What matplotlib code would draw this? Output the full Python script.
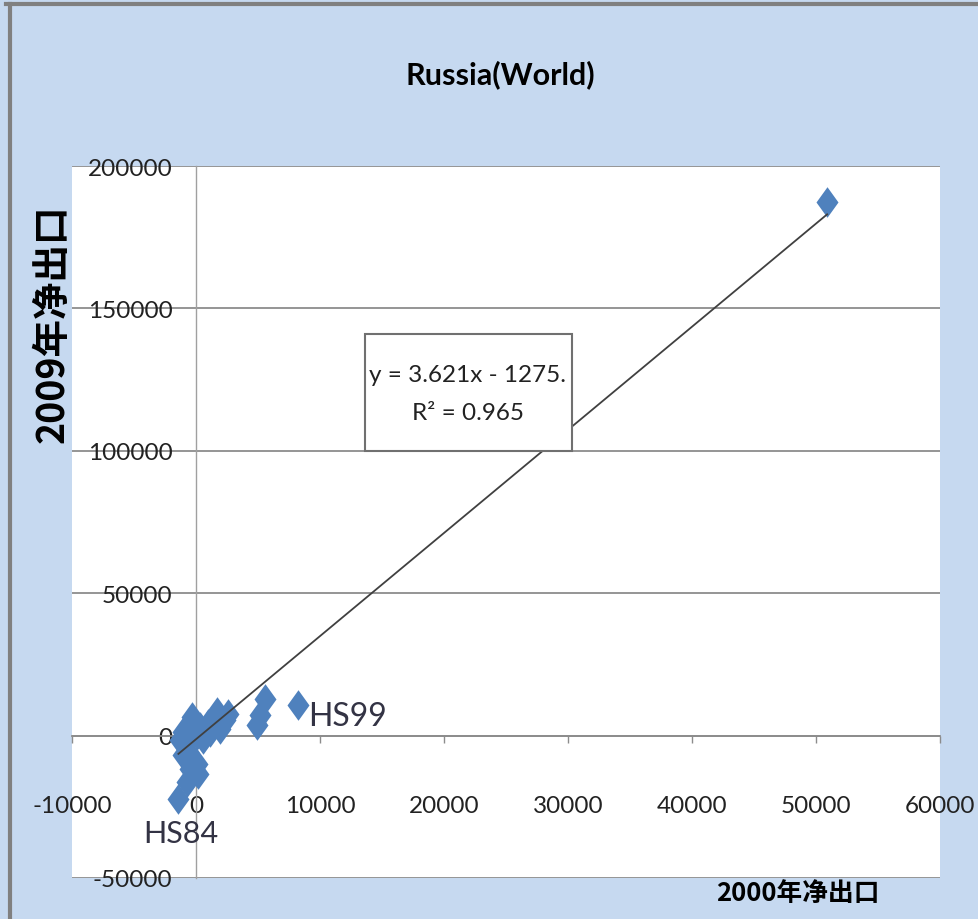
import numpy as np
import matplotlib
matplotlib.use('Agg')
import matplotlib.pyplot as plt
from matplotlib.lines import Line2D
from matplotlib.patches import Rectangle

plt.rcParams['font.family'] = ['Lato', 'DejaVu Sans']
plt.rcParams['axes.unicode_minus'] = False

# net exports, 2000 vs 2009
x2000 = [-1020, -350, 320, 990, 1710, 2330, 2600, -750, -1290, -620, -1020, 50,
         -480, 180, -750, -1420, 1130, 50, 1930, -210, 590, 4880, 5140, 5550,
         8220, 50900]
y2009 = [1300, 6570, 3050, 4200, 8320, 5370, 7720, -2220, -1640, -5720, -6920,
         -9830, -11590, -13340, -16260, -22120, 1300, 100, 2460, 2460, -1050,
         3620, 7130, 12990, 10640, 187200]
labels = {'HS99': (8220, 10640), 'HS84': (-1420, -22120)}
slope, intercept, r2 = 3.621, -1275.0, 0.965

xticks = [-10000, 0, 10000, 20000, 30000, 40000, 50000, 60000]
yticks = [-50000, 0, 50000, 100000, 150000, 200000]

W, H = 979, 920
fig = plt.figure(figsize=(W / 100, H / 100), dpi=100, facecolor='#C6D9F0')
ax = fig.add_axes([72 / W, 41 / H, 868 / W, 712 / H])
ax.set_facecolor('white')

ax.set_xlim(-10000, 60000)
ax.set_ylim(-50000, 200000)
ax.set_xticks(xticks)
ax.set_yticks(yticks)
ax.yaxis.grid(True, color='#8C8C8C', lw=1.3)
ax.set_axisbelow(True)

for s in ['top', 'right']:
    ax.spines[s].set_visible(False)
ax.spines['left'].set_position(('data', 0))
ax.spines['left'].set_color('#A0A0A0')
ax.spines['left'].set_linewidth(1.0)
ax.spines['bottom'].set_position(('data', 0))
ax.spines['bottom'].set_color('#8C8C8C')
ax.spines['bottom'].set_linewidth(1.3)

ax.tick_params(axis='y', length=0, pad=17, labelsize=17.5, labelcolor='#222222')
ax.tick_params(axis='x', direction='out', length=5, width=1, color='#8C8C8C',
               pad=38, labelsize=17.5, labelcolor='#222222')

diamond = [(0, 1), (0.72, 0), (0, -1), (-0.72, 0), (0, 1)]
ax.scatter(x2000, y2009, marker=diamond, s=22 ** 2, color='#4F81BD', zorder=3,
           linewidths=0)

xs = np.array([min(x2000), max(x2000)])
ax.plot(xs, slope * xs + intercept, color='#404040', lw=1.3, zorder=4)

ax.annotate('HS99', labels['HS99'], xytext=(7, -8), textcoords='offset points',
            fontsize=23, color='#333344', ha='left', va='center')
ax.annotate('HS84', labels['HS84'], xytext=(2, -25), textcoords='offset points',
            fontsize=22, color='#333344', ha='center', va='center')

# trendline label box
ax.add_patch(Rectangle((0.3376, 0.5997), 0.2385, 0.1643, transform=ax.transAxes,
                       fc='white', ec='#707070', lw=1.5, zorder=5))
ax.text(0.456, 0.680, 'y = %.3fx - %d.\nR² = %.3f' % (slope, -intercept, r2),
        transform=ax.transAxes, ha='center', va='center', fontsize=17.5,
        linespacing=2.0, color='#222222', zorder=6)

fig.text(500 / W, 1 - 75 / H, 'Russia(World)', ha='center', va='center',
         fontsize=22, fontweight='bold')
fig.text(798 / W, 1 - 893 / H, '2000年净出口', ha='center', va='center',
         fontsize=18.5, fontweight='bold', family=['Noto Sans CJK SC'])
fig.text(52 / W, 1 - 324 / H, '2009年净出口', ha='center', va='center',
         rotation=90, fontsize=27, fontweight='bold', family=['Noto Sans CJK SC'])

# chart frame (top and left edges)
fig.add_artist(Line2D([6 / W, 1], [1 - 5 / H, 1 - 5 / H], color='#808080', lw=3,
                      transform=fig.transFigure))
fig.add_artist(Line2D([10 / W, 10 / W], [0, 1 - 5 / H], color='#808080', lw=3,
                      transform=fig.transFigure))

fig.savefig('out.png', dpi=100, facecolor=fig.get_facecolor())
